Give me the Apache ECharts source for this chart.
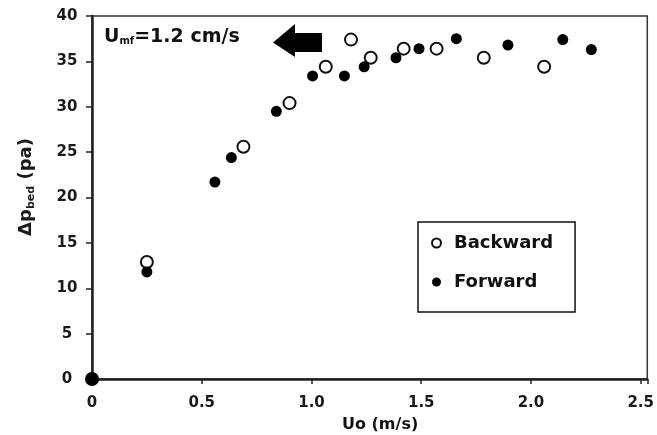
<!DOCTYPE html>
<html>
<head>
<meta charset="utf-8">
<script src="https://cdn.jsdelivr.net/npm/echarts@6/dist/echarts.min.js"></script>
<style>html,body{margin:0;padding:0;background:#fff}#c{width:657px;height:435px}</style>
</head>
<body>
<div id="c"></div>
<script>
const backwardX = [0.25, 0.69, 0.90, 1.065, 1.18, 1.27, 1.42, 1.57, 1.785, 2.06];
const backwardY = [12.9, 25.6, 30.4, 34.4, 37.4, 35.4, 36.4, 36.4, 35.4, 34.4];
const forwardX = [0, 0.25, 0.56, 0.635, 0.84, 1.005, 1.15, 1.24, 1.385, 1.49, 1.66, 1.895, 2.145, 2.275];
const forwardY = [0, 11.8, 21.7, 24.4, 29.5, 33.4, 33.4, 34.4, 35.4, 36.4, 37.5, 36.8, 37.4, 36.3];
const xTicks = [0, 0.5, 1.0, 1.5, 2.0, 2.5];
const xTickLabels = ['0', '0.5', '1.0', '1.5', '2.0', '2.5'];
const seriesNames = ['Backward', 'Forward'];

const FONT = 'DejaVu Sans';
const chart = echarts.init(document.getElementById('c'), null, {renderer: 'canvas'});
const zip = (xs, ys) => xs.map((x, i) => [x, ys[i]]);

chart.setOption({
  animation: false,
  grid: {left: 92, top: 16, right: 7, bottom: 56, show: true, borderColor: '#333', borderWidth: 1.5},
  xAxis: {
    type: 'value', min: 0, max: 2.53, interval: 0.5,
    axisLine: {show: true, lineStyle: {color: '#222', width: 2.5}},
    axisTick: {show: true, length: 5, lineStyle: {color: '#222', width: 1.5}},
    splitLine: {show: false},
    axisLabel: {
      margin: 17, color: '#1a1a1a', fontFamily: FONT, fontWeight: 'bold', fontSize: 15,
      formatter: v => { const i = xTicks.findIndex(t => Math.abs(t - v) < 1e-6); return i >= 0 ? xTickLabels[i] : ''; }
    }
  },
  yAxis: {
    type: 'value', min: 0, max: 40, interval: 5,
    axisLine: {show: true, lineStyle: {color: '#222', width: 2.5}},
    axisTick: {show: true, length: 6, lineStyle: {color: '#222', width: 1.5}},
    splitLine: {show: false},
    axisLabel: {margin: 25, align: 'center', color: '#1a1a1a', fontFamily: FONT, fontWeight: 'bold', fontSize: 15}
  },
  legend: {
    data: seriesNames,
    orient: 'vertical', left: 418, top: 222,
    padding: [11, 22, 20, 13], itemGap: 19,
    itemWidth: 9, itemHeight: 9,
    borderColor: '#111', borderWidth: 1.5, backgroundColor: '#fff',
    textStyle: {fontFamily: FONT, fontWeight: 'bold', fontSize: 18, color: '#111', lineHeight: 20, padding: [0, 0, 0, 8]}
  },
  graphic: [
    {
      type: 'text', left: 104, top: 28,
      style: {
        text: '{a|U}{s|mf}{a|=1.2 cm/s}',
        rich: {
          a: {fontFamily: FONT, fontWeight: 'bold', fontSize: 19, fill: '#111', lineHeight: 24, verticalAlign: 'bottom'},
          s: {fontFamily: FONT, fontWeight: 'bold', fontSize: 10, fill: '#111', lineHeight: 24, verticalAlign: 'bottom', padding: [0, 0, 1, 0]}
        }
      }
    },
    {
      type: 'polygon',
      shape: {points: [[273, 42.5], [295, 24], [295, 33], [322, 33], [322, 52], [295, 52], [295, 57]]},
      style: {fill: '#000'}
    },
    {
      type: 'text', left: 342, top: 417,
      style: {text: 'Uo (m/s)', fontFamily: FONT, fontWeight: 'bold', fontSize: 16, fill: '#111'}
    },
    {
      type: 'text', x: 24, y: 187, rotation: Math.PI / 2,
      style: {
        text: '{a|Δp}{s|bed}{a| (pa)}', align: 'center', verticalAlign: 'middle',
        rich: {
          a: {fontFamily: FONT, fontWeight: 'bold', fontSize: 18, fill: '#1a1a1a', lineHeight: 22, verticalAlign: 'bottom'},
          s: {fontFamily: FONT, fontWeight: 'bold', fontSize: 11, fill: '#1a1a1a', lineHeight: 22, verticalAlign: 'bottom', padding: [0, 0, -2, 0]}
        }
      }
    }
  ],
  series: [
    {
      name: seriesNames[0], type: 'scatter', data: zip(backwardX, backwardY),
      symbol: 'circle', symbolSize: 12,
      itemStyle: {color: '#fff', borderColor: '#111', borderWidth: 2, opacity: 1}
    },
    {
      name: seriesNames[1], type: 'scatter', data: zip(forwardX, forwardY),
      symbol: 'circle', symbolSize: v => (v[0] === 0 && v[1] === 0 ? 14 : 11),
      itemStyle: {color: '#000', borderColor: '#000', borderWidth: 0, opacity: 1},
      clip: false
    }
  ]
});
</script>
</body>
</html>
